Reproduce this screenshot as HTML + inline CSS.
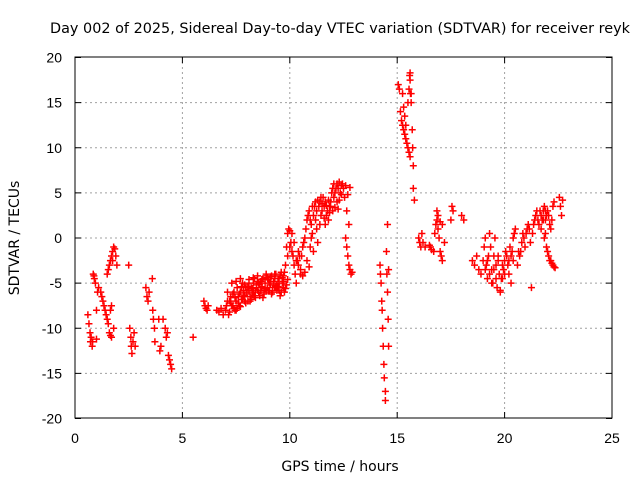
<!DOCTYPE html>
<html><head><meta charset="utf-8"><style>
body{margin:0;background:#fff;}
svg text{font-family:"Liberation Sans",sans-serif;font-size:14px;fill:#000;}
svg text.lbl{font-family:"DejaVu Sans",sans-serif;font-size:14px;}
</style></head><body>
<svg id="chart" width="640" height="480" viewBox="0 0 640 480" xmlns="http://www.w3.org/2000/svg">
<rect width="640" height="480" fill="#fff"/>
<text class="lbl" x="340" y="33" text-anchor="middle" textLength="580" lengthAdjust="spacingAndGlyphs">Day 002 of 2025, Sidereal Day-to-day VTEC variation (SDTVAR) for receiver reyk</text>
<text class="lbl" x="340" y="471" text-anchor="middle">GPS time / hours</text>
<text class="lbl" transform="translate(19,238) rotate(-90)" text-anchor="middle">SDTVAR / TECUs</text>
<g id="grid"></g>
<g id="ticks"></g>
<g id="marks"></g>
<rect x="75" y="57" width="537" height="361" fill="none" stroke="#000" stroke-width="1"/>
</svg>
<script>
const xTicks=[0,5,10,15,20,25];
const yTicks=[20,15,10,5,0,-5,-10,-15,-20];
const segEarly=[[0.6,-8.5],[0.65,-9.5],[0.7,-10.5],[0.72,-11.5],[0.75,-11],[0.8,-12],[0.82,-11.5],[0.85,-4],[0.88,-4.2],[0.9,-4.5],[0.95,-5],[1.0,-8],[1.0,-11.2],[1.05,-6],[1.1,-5.5],[1.2,-6],[1.25,-6.5],[1.3,-7],[1.35,-7.5],[1.4,-8],[1.45,-8.5],[1.5,-9],[1.55,-9.5],[1.6,-10.5],[1.65,-8],[1.7,-7.5],[1.5,-4],[1.55,-3.5],[1.6,-3],[1.65,-2.5],[1.7,-2],[1.75,-1.5],[1.8,-1],[1.85,-1.2],[1.9,-2],[1.95,-3],[1.75,-2.5],[1.8,-10],[1.7,-11],[1.65,-10.8],[2.5,-3],[2.55,-10],[2.6,-11],[2.62,-12],[2.65,-12.8],[2.7,-11.5],[2.75,-10.5],[2.8,-12],[3.3,-5.5],[3.35,-6.5],[3.4,-7],[3.45,-6],[3.6,-4.5],[3.62,-8],[3.65,-9],[3.7,-10],[3.72,-11.5],[3.9,-9],[3.95,-12.5],[4.0,-12],[4.1,-9],[4.2,-10],[4.25,-11],[4.3,-10.5],[4.35,-13],[4.4,-13.5],[4.45,-14],[4.5,-14.5],[5.5,-11],[6.0,-7],[6.05,-7.5],[6.1,-7.8],[6.15,-8],[6.2,-7.5]];
const segBand=[[6.6,-8],[6.7,-8.2],[6.8,-7.8],[6.9,-8.5],[7.0,-8],[7.05,-7.5],[7.1,-6],[7.15,-8.5],[7.2,-7],[7.25,-6.5],[7.3,-5],[7.35,-7.5],[7.4,-6],[7.45,-8],[7.5,-7],[7.55,-5.5],[7.6,-6.5],[7.65,-7.5],[7.7,-6],[7.75,-6.8],[7.8,-5],[7.85,-6.5],[7.9,-7],[7.95,-5.5],[8.0,-6],[8.05,-7],[8.1,-5],[8.15,-6.5],[8.2,-5.5],[8.25,-6.2],[8.3,-5],[8.35,-4.5],[8.4,-6],[8.45,-5.5],[8.5,-4.8],[8.55,-6],[8.6,-5.2],[8.65,-4.8],[8.7,-5.5],[8.75,-4.5],[8.8,-6],[8.85,-5],[8.9,-4.2],[8.95,-5.5],[9.0,-4.6],[9.05,-5.8],[9.1,-4.8],[9.15,-4.2],[9.2,-5.5],[9.25,-5],[9.3,-4.5],[9.35,-4],[9.4,-5.2],[9.45,-4.5],[9.5,-5.8],[9.55,-4.2],[9.6,-3.8],[9.65,-5],[9.7,-5.5],[9.75,-6],[9.8,-3],[9.85,-1],[9.9,0.5],[9.95,1],[10.0,0.8],[10.05,-0.5],[10.1,-1.5],[10.15,-2],[10.2,-3],[10.25,-4],[10.3,-5],[10.35,-2.5],[10.4,-1.5],[10.45,-2],[10.5,-3.5],[10.55,-2],[10.6,-1],[10.65,-0.5],[10.7,0],[10.75,1],[10.8,2],[10.85,2.5],[10.9,3],[10.95,2],[11.0,1.5],[11.05,3.5],[11.1,2.5],[11.15,3.5],[11.2,4],[11.25,3],[11.3,4.2],[11.35,3.5],[11.4,4],[11.45,2.5],[11.5,3],[11.55,4.5],[11.6,3.5],[11.65,4],[11.7,2.5],[11.75,3],[11.8,2],[11.85,3.5],[11.9,4],[11.95,5],[12.0,5.5],[12.05,6],[12.1,5],[12.15,5.5],[12.2,6],[12.25,5.5],[12.3,6.2],[12.35,5],[12.4,5.8],[12.45,6],[12.5,5.5],[12.55,4.5],[12.6,0],[12.65,-1],[12.7,-2],[12.75,-3],[12.8,-3.5],[12.85,-4],[12.7,4.8]];
const segBand2=[[7.2,-8.2],[7.4,-7.8],[7.6,-7.2],[7.8,-6.8],[8.0,-6.2],[8.2,-6.8],[8.4,-6.6],[8.6,-6.4],[8.8,-6.2],[9.0,-5.8],[9.2,-6],[9.4,-5.8],[9.6,-6],[9.8,-5.6],[7.3,-5],[7.5,-4.8],[7.7,-4.5],[7.9,-5.2],[8.1,-4.6],[8.3,-4.4],[8.5,-4.2],[8.7,-4.6],[8.9,-4],[9.1,-4.3],[9.3,-4],[9.5,-4.5],[9.7,-4.2],[9.9,-4.6],[10.1,0.5],[10.3,-2.5],[10.5,-4],[10.7,-3.8],[10.9,-3.2],[11.1,-1.5],[11.3,-0.5],[11.5,3.8],[11.7,3.6],[11.9,3.5],[12.1,3.4],[12.3,4.2],[7.1,-7],[7.3,-7.5],[7.5,-8],[7.7,-7.6],[7.9,-6.4],[8.1,-5.8],[8.3,-6],[8.5,-5.8],[8.7,-5.4],[8.9,-5.8],[9.1,-5.2],[9.3,-5.5],[9.5,-5],[9.7,-4.8],[9.9,-2],[10.0,-1],[10.2,-0.5],[10.4,-3],[10.6,-4.2],[10.8,-2.5],[11.0,0],[11.2,2],[11.4,1.5],[11.6,2.2],[11.8,4.2],[12.0,3],[12.2,4],[12.4,4.8],[12.6,5.8],[12.8,5.6],[12.9,-3.8],[12.75,1.5],[12.65,3],
[7.25,-7.2],[7.45,-6.6],[7.65,-6.2],[7.85,-5.8],[8.05,-5.4],[8.25,-5.6],[8.45,-5.2],[8.65,-5.8],[8.85,-5.6],[9.05,-5],[9.25,-4.8],[9.45,-5.4],[9.65,-4.4],[9.85,-5.2],[7.35,-6.2],[7.55,-7.8],[7.75,-5.4],[7.95,-7.2],[8.15,-7],[8.35,-6.4],[8.55,-5],[8.75,-6.6],[8.95,-4.4],[9.15,-6.2],[9.35,-5.4],[9.55,-6.4],[9.75,-3.8],[10.95,-1],[11.05,0.5],[11.25,1],[11.45,4.5],[11.65,1.5],[11.85,2.8],[12.05,4.5],[12.25,3.2]];
const segDip=[[14.2,-3],[14.22,-4],[14.25,-5],[14.28,-7],[14.3,-8],[14.32,-10],[14.35,-12],[14.38,-14],[14.4,-15.5],[14.45,-17],[14.45,-18],[14.5,-1.5],[14.52,-4],[14.55,-6],[14.55,1.5],[14.58,-9],[14.6,-12],[14.6,-3.5]];
const segPeak=[[15.05,17],[15.1,16.5],[15.15,14],[15.2,13],[15.25,12.5],[15.3,12],[15.35,11.5],[15.4,11],[15.45,10.5],[15.5,10],[15.55,9.5],[15.6,9],[15.6,17.5],[15.62,16],[15.65,15],[15.7,12],[15.72,10],[15.75,8],[15.5,15],[15.55,16.5],[15.58,18],[15.6,18.3],[15.65,16],[15.75,5.5],[15.8,4.2],[15.4,12.5],[15.35,13.5],[15.3,14.5],[15.25,16]];
const segMid=[[16.0,0],[16.05,-0.5],[16.1,-1],[16.15,0.5],[16.2,-0.5],[16.3,-1],[16.5,-0.8],[16.55,-1],[16.6,-1.3],[16.7,-1.5],[16.75,0.5],[16.8,1.5],[16.85,2],[16.9,1],[16.95,0],[17.0,-1.5],[17.05,-2],[17.1,-2.5],[16.85,3],[16.9,2.5],[17.0,1.8],[17.1,1.5],[17.2,-0.5],[17.5,2],[17.55,3.5],[17.6,3],[18.0,2.5],[18.1,2]];
const segLate=[[18.5,-2.5],[18.6,-3],[18.7,-2],[18.8,-3.5],[18.9,-4],[19.0,-2.5],[19.05,-1],[19.1,0],[19.15,-3],[19.2,-4.5],[19.25,-2],[19.3,0.5],[19.35,-1],[19.4,-3.5],[19.45,-5],[19.5,-2],[19.55,0],[19.6,-3],[19.65,-5.5],[19.7,-2.5],[19.75,-4],[19.8,-6],[19.85,-4.5],[19.9,-3],[19.95,-3.5],[20.0,-4],[19.1,-3.5],[19.2,-2.5],[19.3,-4],[19.4,-5],[19.5,-3.5],[19.6,-4.5],[19.7,-2],[19.8,-5.8],[19.9,-4.5],[20.0,-2.5],[20.05,-1.5],[20.1,-2],[20.15,-3],[20.2,-2.5],[20.25,-1],[20.3,-2],[20.35,-1.5],[20.4,0],[20.45,0.5],[20.5,1],[20.2,-4],[20.3,-5],[20.4,-2.5],[20.6,-3],[20.65,-1.5],[20.7,-2],[20.75,-1.5],[20.8,-0.5],[20.85,0.5],[20.9,0],[20.95,-1],[21.0,0.5],[21.05,1],[21.1,1.5],[21.15,1],[21.2,-0.5],[21.25,-5.5],[21.3,0.5],[21.35,1.5],[21.4,2],[21.45,2.5],[21.5,3],[21.55,2],[21.6,1.5],[21.65,3],[21.7,2.5],[21.75,2],[21.8,3],[21.85,3.5],[21.9,2],[21.95,2.5],[22.0,3],[22.05,2.5],[22.1,1.5],[22.15,1],[22.2,2],[22.25,3.5],[22.3,4],[21.7,1],[21.8,2],[21.9,3],[21.85,0],[21.9,0.5],[21.95,-1],[22.0,-1.5],[22.05,-2],[22.1,-2.5],[22.15,-2.5],[22.2,-2.8],[22.25,-3],[22.3,-3.2],[22.35,-3.3],[22.55,4.5],[22.6,3.5],[22.65,2.5],[22.7,4.2]];
const segments=[segEarly,segBand,segBand2,segDip,segPeak,segMid,segLate];
const x=t=>75+t*537/25;
const y=v=>238-v*361/40;
const NS='http://www.w3.org/2000/svg';
const grid=document.getElementById('grid'),ticks=document.getElementById('ticks'),marks=document.getElementById('marks');
xTicks.forEach(t=>{
  const X=x(t);
  if(t>0&&t<25){const l=document.createElementNS(NS,'line');
  
  
  l.setAttribute('x1',X);l.setAttribute('x2',X);l.setAttribute('y1',57);l.setAttribute('y2',418);
  l.setAttribute('stroke','#a0a0a0');l.setAttribute('stroke-dasharray','2,3');grid.appendChild(l);}
  const tk=document.createElementNS(NS,'path');
  
  
  tk.setAttribute('d',`M${X},418v-6M${X},57v6`);tk.setAttribute('stroke','#000');ticks.appendChild(tk);
  const tx=document.createElementNS(NS,'text');
  
  
  tx.setAttribute('x',X);tx.setAttribute('y',443);tx.setAttribute('text-anchor','middle');tx.textContent=t;ticks.appendChild(tx);
});
yTicks.forEach(v=>{
  const Y=y(v);
  if(v>-20&&v<20){const l=document.createElementNS(NS,'line');
  
  
  l.setAttribute('x1',75);l.setAttribute('x2',612);l.setAttribute('y1',Y);l.setAttribute('y2',Y);
  l.setAttribute('stroke','#a0a0a0');l.setAttribute('stroke-dasharray','2,3');grid.appendChild(l);}
  const tk=document.createElementNS(NS,'path');
  
  
  tk.setAttribute('d',`M75,${Y}h6M612,${Y}h-6`);tk.setAttribute('stroke','#000');ticks.appendChild(tk);
  const tx=document.createElementNS(NS,'text');
  
  
  tx.setAttribute('x',62);tx.setAttribute('y',Y+5);tx.setAttribute('text-anchor','end');tx.textContent=v;ticks.appendChild(tx);
});
let d='';
segments.forEach(seg=>seg.forEach(([t,v])=>{
  const X=x(t),Y=y(v);
  d+=`M${X-3.5},${Y}h7M${X},${Y-3.5}v7`;
}));
const p=document.createElementNS(NS,'path');


p.setAttribute('d',d);p.setAttribute('stroke','#ff0000');p.setAttribute('stroke-width','1.5');p.setAttribute('fill','none');
marks.appendChild(p);
</script>
</body></html>
